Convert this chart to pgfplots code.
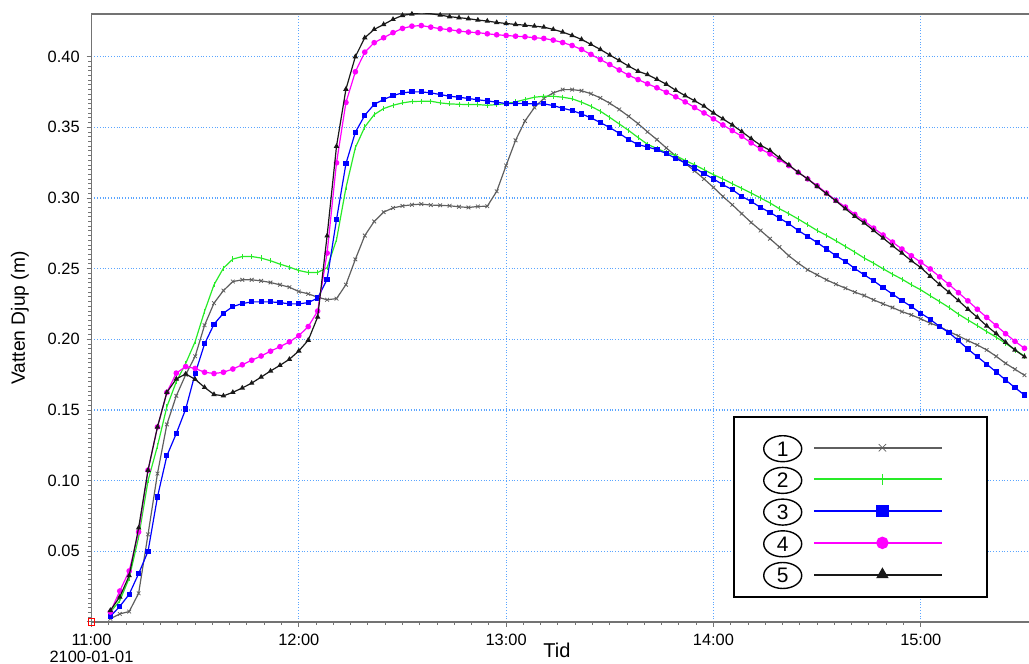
\documentclass[border=0pt]{standalone}
\usepackage{fontspec}
\setmainfont{Liberation Sans}
\usepackage{pgfplots}
\pgfplotsset{compat=1.18}
\usepackage{pgfplotstable}
\usetikzlibrary{shapes.geometric}
\definecolor{gridblue}{RGB}{90,165,255}
\definecolor{axisgray}{RGB}{115,115,115}
\definecolor{sA}{RGB}{95,95,95}
\definecolor{sB}{RGB}{40,235,40}
\definecolor{sC}{RGB}{0,0,255}
\definecolor{sD}{RGB}{255,0,255}
\definecolor{sE}{RGB}{25,25,25}

\pgfplotstableread{
x s1 s2 s3 s4 s5
0.0909 0.0023 0.0070 0.0040 0.0070 0.0082
0.1364 0.0057 0.0150 0.0110 0.0219 0.0177
0.1818 0.0074 0.0310 0.0196 0.0361 0.0328
0.2273 0.0203 0.0600 0.0342 0.0637 0.0666
0.2727 0.0620 0.1000 0.0500 0.1074 0.1074
0.3182 0.1050 0.1245 0.0885 0.1380 0.1380
0.3636 0.1398 0.1523 0.1176 0.1625 0.1625
0.4091 0.1600 0.1700 0.1334 0.1761 0.1720
0.4545 0.1750 0.1830 0.1507 0.1807 0.1755
0.5000 0.1880 0.1984 0.1758 0.1794 0.1717
0.5455 0.2100 0.2199 0.1968 0.1767 0.1660
0.5909 0.2256 0.2386 0.2107 0.1758 0.1610
0.6364 0.2345 0.2504 0.2185 0.1767 0.1600
0.6818 0.2409 0.2568 0.2232 0.1790 0.1625
0.7273 0.2421 0.2586 0.2253 0.1820 0.1656
0.7727 0.2421 0.2586 0.2265 0.1852 0.1690
0.8182 0.2414 0.2575 0.2265 0.1882 0.1733
0.8636 0.2402 0.2556 0.2265 0.1916 0.1776
0.9091 0.2386 0.2532 0.2260 0.1948 0.1816
0.9545 0.2369 0.2511 0.2251 0.1982 0.1859
1.0000 0.2338 0.2487 0.2251 0.2026 0.1918
1.0455 0.2322 0.2473 0.2260 0.2090 0.1994
1.0909 0.2298 0.2473 0.2292 0.2200 0.2158
1.1364 0.2280 0.2507 0.2425 0.2610 0.2732
1.1818 0.2288 0.2704 0.2847 0.3249 0.3366
1.2273 0.2387 0.3072 0.3243 0.3676 0.3770
1.2727 0.2566 0.3356 0.3465 0.3893 0.4000
1.3182 0.2734 0.3503 0.3585 0.4032 0.4134
1.3636 0.2834 0.3590 0.3663 0.4099 0.4193
1.4091 0.2900 0.3633 0.3697 0.4134 0.4228
1.4545 0.2930 0.3656 0.3725 0.4170 0.4264
1.5000 0.2944 0.3673 0.3744 0.4200 0.4292
1.5455 0.2952 0.3683 0.3751 0.4216 0.4302
1.5909 0.2957 0.3684 0.3751 0.4220 0.4311
1.6364 0.2950 0.3685 0.3744 0.4209 0.4304
1.6818 0.2948 0.3673 0.3732 0.4198 0.4294
1.7273 0.2945 0.3666 0.3720 0.4191 0.4283
1.7727 0.2938 0.3663 0.3713 0.4181 0.4276
1.8182 0.2933 0.3661 0.3704 0.4174 0.4269
1.8636 0.2940 0.3661 0.3695 0.4170 0.4259
1.9091 0.2942 0.3656 0.3687 0.4162 0.4252
1.9545 0.3047 0.3661 0.3678 0.4155 0.4242
2.0000 0.3230 0.3668 0.3668 0.4150 0.4235
2.0455 0.3408 0.3680 0.3668 0.4145 0.4228
2.0909 0.3545 0.3697 0.3668 0.4141 0.4223
2.1364 0.3640 0.3713 0.3666 0.4134 0.4216
2.1818 0.3705 0.3720 0.3666 0.4129 0.4209
2.2273 0.3744 0.3720 0.3654 0.4117 0.4193
2.2727 0.3767 0.3713 0.3635 0.4100 0.4174
2.3182 0.3767 0.3702 0.3619 0.4079 0.4150
2.3636 0.3759 0.3678 0.3595 0.4051 0.4122
2.4091 0.3738 0.3649 0.3567 0.4016 0.4087
2.4545 0.3708 0.3614 0.3534 0.3980 0.4051
2.5000 0.3670 0.3570 0.3498 0.3944 0.4011
2.5455 0.3627 0.3524 0.3458 0.3906 0.3973
2.5909 0.3578 0.3478 0.3413 0.3869 0.3933
2.6364 0.3526 0.3428 0.3378 0.3838 0.3897
2.6818 0.3468 0.3380 0.3361 0.3808 0.3873
2.7273 0.3413 0.3350 0.3342 0.3780 0.3840
2.7727 0.3354 0.3322 0.3315 0.3748 0.3805
2.8182 0.3297 0.3300 0.3280 0.3716 0.3762
2.8636 0.3245 0.3265 0.3248 0.3680 0.3724
2.9091 0.3192 0.3235 0.3213 0.3640 0.3688
2.9545 0.3135 0.3200 0.3172 0.3602 0.3650
3.0000 0.3075 0.3165 0.3135 0.3560 0.3602
3.0455 0.3011 0.3135 0.3094 0.3517 0.3560
3.0909 0.2952 0.3101 0.3059 0.3477 0.3517
3.1364 0.2889 0.3068 0.3011 0.3437 0.3470
3.1818 0.2827 0.3035 0.2976 0.3390 0.3420
3.2273 0.2770 0.3000 0.2933 0.3347 0.3373
3.2727 0.2712 0.2965 0.2898 0.3312 0.3337
3.3182 0.2653 0.2924 0.2858 0.3271 0.3284
3.3636 0.2591 0.2889 0.2818 0.3229 0.3234
3.4091 0.2539 0.2851 0.2770 0.3181 0.3181
3.4545 0.2492 0.2811 0.2728 0.3135 0.3135
3.5000 0.2456 0.2770 0.2685 0.3087 0.3082
3.5455 0.2421 0.2735 0.2639 0.3035 0.3030
3.5909 0.2390 0.2697 0.2591 0.2983 0.2979
3.6364 0.2362 0.2657 0.2551 0.2936 0.2924
3.6818 0.2334 0.2617 0.2501 0.2884 0.2870
3.7273 0.2310 0.2575 0.2456 0.2837 0.2823
3.7727 0.2279 0.2539 0.2414 0.2787 0.2770
3.8182 0.2251 0.2499 0.2366 0.2738 0.2717
3.8636 0.2225 0.2461 0.2320 0.2688 0.2662
3.9091 0.2196 0.2426 0.2274 0.2639 0.2610
3.9545 0.2173 0.2386 0.2232 0.2591 0.2556
4.0000 0.2145 0.2350 0.2185 0.2546 0.2508
4.0455 0.2114 0.2308 0.2142 0.2498 0.2447
4.0909 0.2090 0.2267 0.2090 0.2442 0.2388
4.1364 0.2055 0.2225 0.2047 0.2388 0.2332
4.1818 0.2024 0.2178 0.1990 0.2330 0.2274
4.2273 0.1991 0.2137 0.1931 0.2272 0.2213
4.2727 0.1960 0.2097 0.1877 0.2213 0.2156
4.3182 0.1925 0.2055 0.1824 0.2155 0.2095
4.3636 0.1880 0.2015 0.1769 0.2097 0.2041
4.4091 0.1830 0.1972 0.1712 0.2040 0.1979
4.4545 0.1788 0.1925 0.1658 0.1986 0.1925
4.5000 0.1746 0.1882 0.1606 0.1937 0.1877
}\data

\newcommand{\lbl}[1]{\tikz[baseline={(n.center)}]\node[draw,ellipse,line width=0.7pt,inner sep=0pt,minimum width=19pt,minimum height=13pt,text height=7.4pt,text depth=0pt,font=\fontsize{10.5}{12}\selectfont](n){#1};}

\begin{document}
\begin{tikzpicture}
\path[use as bounding box] (0,0) rectangle (514.5pt,332pt);
\begin{axis}[
  at={(45.75pt,21pt)}, anchor=south west,
  scale only axis, width=468.75pt, height=304pt,
  xmin=0, xmax=4.522, ymin=0, ymax=0.4302,
  axis x line=box, axis y line=left,
  axis line style={-, draw=axisgray, line width=0.8pt},
  tick style={draw=axisgray, line width=0.5pt},
  tick align=outside, xtick pos=bottom, ytick pos=left,
  major tick length=2.4pt, minor tick length=1.5pt,
  xtick={0,1,2,3,4},
  xticklabels={{11:00\\2100-01-01},12:00,13:00,14:00,15:00},
  xticklabel style={align=center, font=\fontsize{8.2}{8.6}\selectfont},
  minor x tick num=11,
  ytick={0,0.05,0.10,0.15,0.20,0.25,0.30,0.35,0.40},
  yticklabels={{},0.05,0.10,0.15,0.20,0.25,0.30,0.35,0.40},
  yticklabel style={font=\fontsize{8.2}{10}\selectfont},
  minor y tick num=14,
  grid=major,
  major grid style={densely dotted, draw=gridblue, line width=0.6pt},
  xlabel={Tid}, ylabel={Vatten Djup (m)},
  xlabel style={at={(axis description cs:0.4965,-0.046)}, anchor=center, font=\fontsize{10}{12}\selectfont},
  ylabel style={at={(axis description cs:-0.0763,0.5)}, anchor=center, rotate=0, font=\fontsize{9.6}{11}\selectfont},
  clip mode=individual,
  legend plot pos=right,
  legend image code/.code={\draw[mark repeat=2,mark phase=2,#1] plot coordinates {(0pt,-2.2pt) (34pt,-2.2pt) (64pt,-2.2pt)}; \path (73pt,-2.2pt);},
  legend image post style={line width=1pt, mark size=2.6pt},
  legend style={at={(axis description cs:0.6843,0.3388)}, anchor=north west,
    draw=black, line width=1pt, fill=white, inner xsep=13pt, inner ysep=7.5pt,
    nodes={inner sep=1.5pt}, column sep=4pt, row sep=4.5pt},
]
\addplot[sA, line width=0.6pt, mark=x, mark size=1.3pt, mark options={line width=0.4pt}] table[x=x,y=s1] {\data};
\addlegendentry{\lbl{1}}
\addplot[sB, line width=0.6pt, mark=|, mark size=1.3pt, mark options={line width=0.4pt}] table[x=x,y=s2] {\data};
\addlegendentry{\lbl{2}}
\addplot[sC, line width=0.6pt, mark=square*, mark size=1pt] table[x=x,y=s3] {\data};
\addlegendentry{\lbl{3}}
\addplot[sD, line width=0.6pt, mark=*, mark size=1.1pt] table[x=x,y=s4] {\data};
\addlegendentry{\lbl{4}}
\addplot[sE, line width=0.6pt, mark=triangle*, mark size=1pt] table[x=x,y=s5] {\data};
\addlegendentry{\lbl{5}}
\addplot[only marks, red, mark=square, mark size=1.7pt, mark options={line width=0.4pt}, forget plot] coordinates {(0,0)};
\end{axis}
\end{tikzpicture}
\end{document}
